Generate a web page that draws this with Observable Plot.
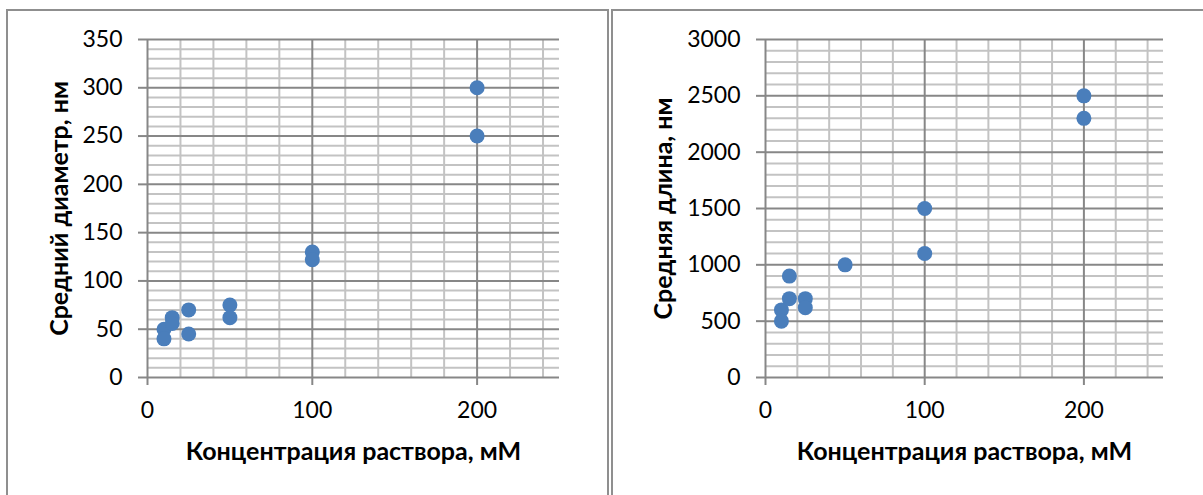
<!DOCTYPE html>
<html><head><meta charset="utf-8">
<script src="https://cdn.jsdelivr.net/npm/d3@7"></script>
<script src="https://cdn.jsdelivr.net/npm/@observablehq/plot@0.6"></script>
<style>
html,body{margin:0;padding:0;background:#fff;}
body{width:1203px;height:495px;overflow:hidden;position:relative;font-family:Lato,"Noto Sans",sans-serif;}
.panel{position:absolute;box-sizing:content-box;border-top:2px solid #8f8f8f;border-left:2px solid #8f8f8f;}
#p1{left:6px;top:9px;width:599px;height:500px;border-right:2px solid #8f8f8f;}
#p2{left:611px;top:9px;width:700px;height:500px;}
.panel svg{position:absolute;left:0;top:0;}
</style>
</head><body>
<div class="panel" id="p1"></div>
<div class="panel" id="p2"></div>
<script>
// Data
const concDiam = [10, 10, 15, 15, 25, 25, 50, 50, 100, 100, 200, 200];
const diameter = [50, 40, 62, 56, 70, 45, 75, 62, 130, 122, 300, 250];
const concLen = [10, 10, 15, 15, 25, 25, 50, 100, 100, 200, 200];
const lengthNm = [600, 500, 900, 700, 700, 620, 1000, 1500, 1100, 2500, 2300];

const xTicks = [0, 100, 200];
const xMinor = [20, 40, 60, 80, 120, 140, 160, 180, 220, 240];
const yTicksDiam = [0, 50, 100, 150, 200, 250, 300, 350];
const yMinorDiam = [10,20,30,40,60,70,80,90,110,120,130,140,160,170,180,190,210,220,230,240,260,270,280,290,310,320,330,340];
const yTicksLen = [0, 500, 1000, 1500, 2000, 2500, 3000];
const yMinorLen = [100,200,300,400,600,700,800,900,1100,1200,1300,1400,1600,1700,1800,1900,2100,2200,2300,2400,2600,2700,2800,2900];

const xTitle = "Концентрация раствора, мМ";
const yTitleDiam = "Средний диаметр, нм";
const yTitleLen = "Средняя длина, нм";

const MAJOR = "#878787", MINOR = "#c3c3c3", DOT = "#4a7ebb";

function chart({xs, ys, yMax, yTicks, yMinor, yTitle, width, marginLeft, marginRight, titleDx}) {
  const data = xs.map((x, i) => ({x, y: ys[i]}));
  return Plot.plot({
    width, height: 484,
    marginTop: 28, marginBottom: 118, marginLeft, marginRight,
    style: {fontFamily: 'Lato, "Noto Sans", sans-serif', overflow: "visible", background: "transparent"},
    x: {domain: [0, 250], label: null},
    y: {domain: [0, yMax], label: null},
    marks: [
      Plot.ruleY(yMinor, {stroke: MINOR, strokeWidth: 2}),
      Plot.ruleX(xMinor, {stroke: MINOR, strokeWidth: 2}),
      Plot.ruleY(yTicks, {stroke: MAJOR, strokeWidth: 2}),
      Plot.ruleX(xTicks, {stroke: MAJOR, strokeWidth: 2}),
      Plot.axisY({ticks: yTicks, tickSize: 9, tickPadding: 16, stroke: MAJOR, strokeWidth: 2, fill: "#000", fontSize: 23, label: null, tickFormat: d => String(d)}),
      Plot.axisX({ticks: xTicks, tickSize: 8, tickPadding: 16, stroke: MAJOR, strokeWidth: 2, fill: "#000", fontSize: 23, label: null, tickFormat: d => String(d)}),
      Plot.dot(data, {x: "x", y: "y", r: 7.5, fill: DOT, stroke: "none"}),
      Plot.text([xTitle], {text: d => d, frameAnchor: "bottom", textAnchor: "middle", lineAnchor: "middle", dy: 74, fontSize: 25, fontWeight: "bold", fill: "#000"}),
      Plot.text([yTitle], {text: d => d, frameAnchor: "left", textAnchor: "middle", lineAnchor: "middle", rotate: -90, dx: titleDx, fontSize: 25, fontWeight: "bold", fill: "#000"})
    ]
  });
}

document.getElementById("p1").append(chart({
  xs: concDiam, ys: diameter, yMax: 350, yTicks: yTicksDiam, yMinor: yMinorDiam, yTitle: yTitleDiam,
  width: 599, marginLeft: 139, marginRight: 48, titleDx: -88
}));
document.getElementById("p2").append(chart({
  xs: concLen, ys: lengthNm, yMax: 3000, yTicks: yTicksLen, yMinor: yMinorLen, yTitle: yTitleLen,
  width: 590, marginLeft: 152, marginRight: 40, titleDx: -102
}));
</script>
</body></html>
